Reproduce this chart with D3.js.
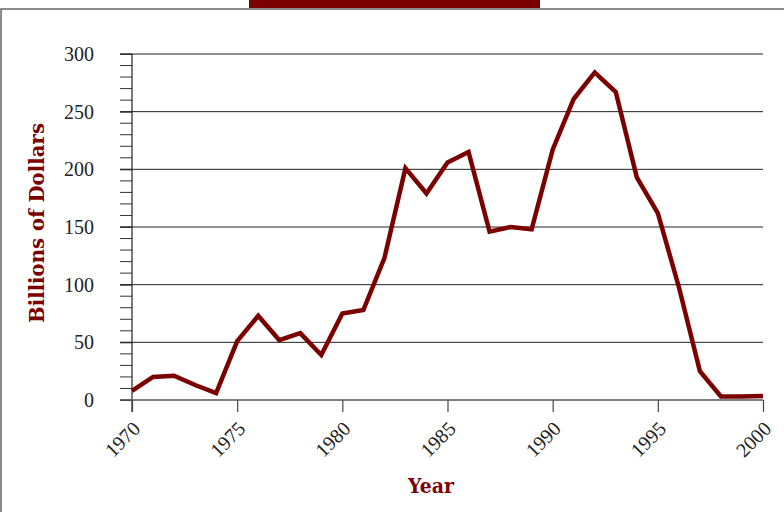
<!DOCTYPE html>
<html><head><meta charset="utf-8">
<script src="https://cdn.jsdelivr.net/npm/d3@7"></script>
<style>
body{margin:0;background:#fff;}
svg{display:block;}
.tick text{font-family:"Liberation Serif","Times New Roman",serif;font-size:20px;fill:#222;}
.title{font-family:"DejaVu Serif",serif;font-weight:bold;fill:#7b0000;font-size:20px;}
</style></head>
<body>
<svg id="c" width="784" height="512"></svg>
<script>
const years = [1970,1971,1972,1973,1974,1975,1976,1977,1978,1979,1980,1981,1982,1983,1984,1985,1986,1987,1988,1989,1990,1991,1992,1993,1994,1995,1996,1997,1998,1999,2000];
const values = [8,20,21,13,6,51,73,52,58,39,75,78,123,201,179,206,215,146,150,148,217,261,284,267,193,162,98,25,3,3,3.5];
const xTicks = [1970,1975,1980,1985,1990,1995,2000];
const yTicks = [0,50,100,150,200,250,300];
const xLabel = "Year";
const yLabel = "Billions of Dollars";

const svg = d3.select("#c");
const x = d3.scaleLinear().domain([1970,2000]).range([132,763]);
const y = d3.scaleLinear().domain([0,300]).range([400,54]);

// frame
svg.append("rect").attr("x",1).attr("y",9).attr("width",790).attr("height",520)
  .attr("fill","none").attr("stroke","#666").attr("stroke-width",1.5);
svg.append("rect").attr("x",249).attr("y",0).attr("width",291).attr("height",8).attr("fill","#7b0000");

// gridlines
svg.append("g").selectAll("line").data(yTicks.filter(d=>d>0)).join("line")
  .attr("x1",120).attr("x2",763).attr("y1",d=>y(d)).attr("y2",d=>y(d))
  .attr("stroke","#222").attr("stroke-width",1);

// minor y ticks
svg.append("g").selectAll("line").data(d3.range(0,301,10)).join("line")
  .attr("x1",120).attr("x2",132).attr("y1",d=>y(d)).attr("y2",d=>y(d))
  .attr("stroke","#333").attr("stroke-width",1);

// y axis
const yAxis = d3.axisLeft(y).tickValues(yTicks).tickSize(12).tickPadding(26);
const gy = svg.append("g").attr("transform","translate(132,0)").call(yAxis);
gy.select(".domain").remove();
gy.selectAll(".tick line").attr("stroke","#333");
svg.append("line").attr("x1",132).attr("x2",132).attr("y1",54).attr("y2",412).attr("stroke","#222").attr("stroke-width",1.2);

// x axis
const xAxis = d3.axisBottom(x).tickValues(xTicks).tickFormat(d3.format("d")).tickSize(12);
const gx = svg.append("g").attr("transform","translate(0,400)").call(xAxis);
gx.select(".domain").remove();
gx.selectAll(".tick line").attr("stroke","#444").attr("stroke-width",1.2);
gx.selectAll(".tick text").attr("text-anchor","end").attr("y",0).attr("dy",0)
  .attr("transform","translate(9,30) rotate(-45)");
svg.append("line").attr("x1",120).attr("x2",763).attr("y1",400).attr("y2",400).attr("stroke","#555").attr("stroke-width",1.5);

// line
const line = d3.line().x((d,i)=>x(years[i])).y(d=>y(d));
svg.append("path").datum(values).attr("d",line).attr("fill","none")
  .attr("stroke","#7b0000").attr("stroke-width",4.5).attr("stroke-linejoin","miter");

// titles
svg.append("text").attr("class","title").attr("x",431).attr("y",493).attr("text-anchor","middle")
  .attr("textLength",46).attr("lengthAdjust","spacingAndGlyphs").text(xLabel);
svg.append("text").attr("class","title").attr("text-anchor","middle")
  .attr("textLength",200).attr("lengthAdjust","spacingAndGlyphs")
  .attr("transform","translate(44,223) rotate(-90)").text(yLabel);
</script>
</body></html>
